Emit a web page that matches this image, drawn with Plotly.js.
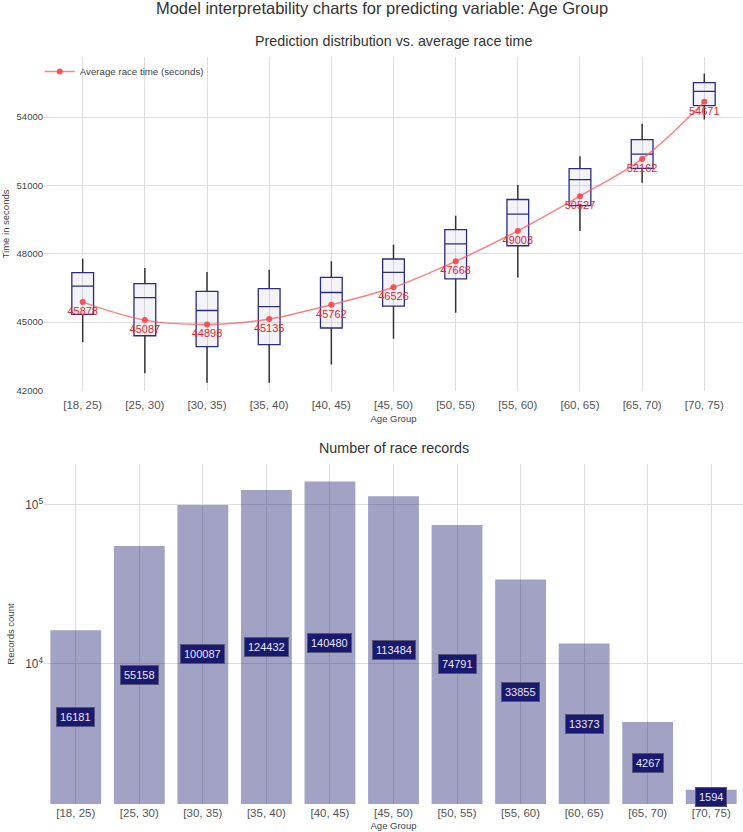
<!DOCTYPE html>
<html>
<head>
<meta charset="utf-8">
<script src="https://cdn.plot.ly/plotly-3.0.1.min.js"></script>
<style>
  html, body { margin: 0; padding: 0; background: #fff; }
  #chart { width: 743px; height: 832px; }
</style>
</head>
<body>
<div id="chart"></div>
<script>
// ===============================================
// DATA
// ===============================================
const ageGroups = ["[18, 25)", "[25, 30)", "[30, 35)", "[35, 40)", "[40, 45)", "[45, 50)",
                   "[50, 55)", "[55, 60)", "[60, 65)", "[65, 70)", "[70, 75)"];

// prediction distribution per age group (seconds)
const lowerWhisker = [44120, 42760, 42340, 42340, 43140, 44270, 45410, 46960, 49000, 51120, 53890];
const q1Values     = [45340, 44400, 43920, 44010, 44740, 45700, 46900, 48350, 50110, 51750, 54500];
const medianValues = [46580, 46070, 45510, 45680, 46300, 47180, 48430, 49740, 51250, 52370, 55130];
const q3Values     = [47170, 46690, 46350, 46470, 46960, 47770, 49060, 50380, 51740, 53010, 55510];
const upperWhisker = [47780, 47370, 47200, 47300, 47670, 48400, 49670, 51020, 52280, 53700, 55910];

// average race time per age group (seconds)
const avgRaceTime = [45878, 45087, 44898, 45135, 45762, 46526, 47668, 49003, 50527, 52162, 54671];

// number of race records per age group
const recordCounts = [16181, 55158, 100087, 124432, 140480, 113484, 74791, 33855, 13373, 4267, 1594];


// ===============================================
// TRACES
// ===============================================
const boxTrace = {
    type: "box",
    x: ageGroups,
    q1: q1Values,
    median: medianValues,
    q3: q3Values,
    lowerfence: q1Values,   // whiskers are drawn by the scatter below
    upperfence: q3Values,
    boxpoints: false,
    line: { color: "#2b2b80", width: 1.3 },
    fillcolor: "rgba(25,25,112,0.05)",
    showlegend: false,
    hoverinfo: "skip",
    xaxis: "x",
    yaxis: "y"
};

// whiskers in dark grey, separated with nulls
const whiskerX = [];
const whiskerY = [];
ageGroups.forEach((g, i) => {
    whiskerX.push(g, g, null, g, g, null);
    whiskerY.push(lowerWhisker[i], q1Values[i], null, q3Values[i], upperWhisker[i], null);
});

const whiskerTrace = {
    type: "scatter",
    mode: "lines",
    x: whiskerX,
    y: whiskerY,
    line: { color: "#333333", width: 1.5 },
    connectgaps: false,
    showlegend: false,
    hoverinfo: "skip",
    xaxis: "x",
    yaxis: "y"
};

const meanTrace = {
    type: "scatter",
    mode: "lines+markers+text",
    name: "Average race time (seconds)",
    x: ageGroups,
    y: avgRaceTime,
    text: avgRaceTime.map(v => String(v)),
    textposition: "bottom center",
    textfont: { color: "#e8232f", size: 11 },
    line: { color: "rgba(250,90,90,0.75)", width: 1.5, shape: "spline" },
    marker: { color: "rgba(245,70,75,0.9)", size: 6 },
    xaxis: "x",
    yaxis: "y"
};

const barTrace = {
    type: "bar",
    x: ageGroups,
    y: recordCounts,
    marker: { color: "midnightblue" },
    opacity: 0.4,
    showlegend: false,
    hoverinfo: "skip",
    xaxis: "x2",
    yaxis: "y2"
};


// ===============================================
// LAYOUT
// ===============================================
const fontFamily = "Liberation Sans, Arial, sans-serif";
const logRange = [3.113, 5.258];

// count labels sit halfway up the visible bar (log space)
const countLabels = recordCounts.map((v, i) => ({
    x: ageGroups[i],
    y: (logRange[0] + Math.log10(v)) / 2,
    xref: "x2",
    yref: "y2",
    text: String(v),
    showarrow: false,
    bgcolor: "midnightblue",
    bordercolor: "#55557a",
    borderwidth: 1,
    borderpad: 3,
    font: { color: "#e8e8f4", size: 11, family: fontFamily }
}));

const subplotTitles = [
    { text: "Prediction distribution vs. average race time", y: 1.021 },
    { text: "Number of race records", y: 0.4766 }
].map(t => ({
    text: t.text,
    x: 0.5,
    y: t.y,
    xref: "paper",
    yref: "paper",
    xanchor: "center",
    yanchor: "middle",
    showarrow: false,
    font: { size: 14.3, color: "#333", family: fontFamily }
}));

const gridColor = "#dedede";
const axisTitleFont = { size: 9.5, color: "#444" };

const layout = {
    width: 743,
    height: 832,
    margin: { l: 44, r: 0, t: 57, b: 28 },
    paper_bgcolor: "#fff",
    plot_bgcolor: "#fff",
    font: { family: fontFamily, color: "#444", size: 11 },
    title: {
        text: "Model interpretability charts for predicting variable: Age Group",
        x: 382 / 743,
        xref: "container",
        xanchor: "center",
        y: 1 - 8 / 832,
        yref: "container",
        yanchor: "middle",
        font: { size: 16.5, color: "#333", family: fontFamily }
    },
    showlegend: true,
    legend: {
        x: -0.006,
        y: 1,
        xanchor: "left",
        yanchor: "top",
        bgcolor: "rgba(255,255,255,0)",
        font: { size: 9.7, color: "#444" }
    },
    boxgap: 0.5,
    bargap: 0.2,
    xaxis: {
        domain: [0, 1],
        anchor: "y",
        type: "category",
        showgrid: true,
        gridcolor: gridColor,
        zeroline: false,
        ticklabelstandoff: 6,
        tickfont: { size: 11.5, color: "#555" },
        title: { text: "Age Group", font: axisTitleFont, standoff: 4 }
    },
    yaxis: {
        domain: [0.553, 1],
        anchor: "x",
        range: [41980, 56635],
        tickvals: [42000, 45000, 48000, 51000, 54000],
        tickformat: "d",
        showgrid: true,
        gridcolor: gridColor,
        zeroline: false,
        tickfont: { size: 9.5, color: "#444" },
        title: { text: "Time in seconds", font: axisTitleFont, standoff: 5 }
    },
    xaxis2: {
        domain: [0, 1],
        anchor: "y2",
        type: "category",
        showgrid: true,
        gridcolor: gridColor,
        zeroline: false,
        tickfont: { size: 11.5, color: "#555" },
        title: { text: "Age Group", font: axisTitleFont, standoff: 4 }
    },
    yaxis2: {
        domain: [0, 0.455],
        anchor: "x2",
        type: "log",
        range: logRange,
        dtick: 1,
        exponentformat: "power",
        showgrid: true,
        gridcolor: gridColor,
        zeroline: false,
        tickfont: { size: 9.5, color: "#444" },
        title: { text: "Records count", font: axisTitleFont, standoff: 8 }
    },
    annotations: subplotTitles.concat(countLabels)
};

Plotly.newPlot("chart", [boxTrace, whiskerTrace, meanTrace, barTrace], layout, {
    displayModeBar: false,
    staticPlot: true
});
</script>
</body>
</html>
